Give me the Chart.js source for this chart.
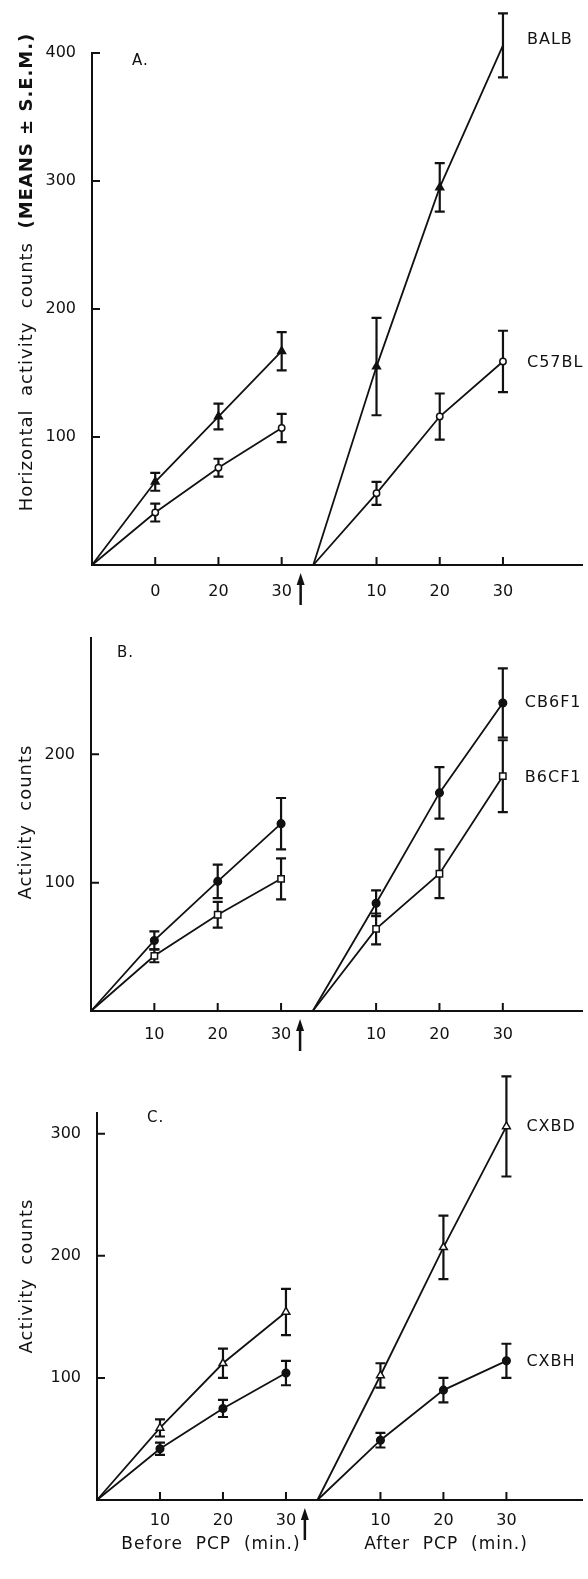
<!DOCTYPE html>
<html>
<head>
<meta charset="utf-8">
<script src="https://cdn.jsdelivr.net/npm/chart.js@4/dist/chart.umd.min.js"></script>
<style>
  body { margin: 0; background: #fff; width: 588px; height: 1579px; position: relative; overflow: hidden; }
  canvas { position: absolute; left: 0; }
</style>
</head>
<body>
<canvas id="chartA" width="588" height="620" style="top:0"></canvas>
<canvas id="chartB" width="588" height="440" style="top:620px"></canvas>
<canvas id="chartC" width="588" height="519" style="top:1060px"></canvas>
<script>
// minutes after start of each session; "after PCP" session is drawn from afterStart on
const beforeTimes = [10, 20, 30];
const afterTimes = [10, 20, 30];
const afterStart = 35;
const arrowAt = 33;

const tickLabelsA = ['0', '20', '30', '10', '20', '30'];
const tickLabelsBC = ['10', '20', '30', '10', '20', '30'];
const yTicksA = [100, 200, 300, 400];
const yTicksB = [100, 200];
const yTicksC = [100, 200, 300];

// A. BALB vs C57BL
const balbBefore = [65, 116, 167];
const balbBeforeErr = [7, 10, 15];
const balbAfter = [155, 295, 406];
const balbAfterErr = [38, 19, 25];
const c57Before = [41, 76, 107];
const c57BeforeErr = [7, 7, 11];
const c57After = [56, 116, 159];
const c57AfterErr = [9, 18, 24];

// B. CB6F1 vs B6CF1
const cb6f1Before = [55, 101, 146];
const cb6f1BeforeErr = [7, 13, 20];
const cb6f1After = [84, 170, 240];
const cb6f1AfterErr = [10, 20, 27];
const b6cf1Before = [43, 75, 103];
const b6cf1BeforeErr = [5, 10, 16];
const b6cf1After = [64, 107, 183];
const b6cf1AfterErr = [12, 19, 28];

// C. CXBD vs CXBH
const cxbdBefore = [59, 112, 154];
const cxbdBeforeErr = [7, 12, 19];
const cxbdAfter = [102, 207, 306];
const cxbdAfterErr = [10, 26, 41];
const cxbhBefore = [42, 75, 104];
const cxbhBeforeErr = [5, 7, 10];
const cxbhAfter = [49, 90, 114];
const cxbhAfterErr = [6, 10, 14];

const ink = '#111';
const FONT = '"DejaVu Sans", sans-serif';

function segment(times, vals, start) {
  return [{ x: start, y: 0 }].concat(times.map((t, i) => ({ x: start + t, y: vals[i] })));
}

function drawText(ctx, text, x, y, size, opts = {}) {
  ctx.save();
  ctx.font = (opts.bold ? 'bold ' : '') + size + 'px ' + FONT;
  ctx.letterSpacing = (opts.spacing || 0) + 'px';
  ctx.fillStyle = ink;
  ctx.textAlign = opts.align || 'left';
  ctx.textBaseline = opts.baseline || 'middle';
  ctx.translate(x, y);
  if (opts.rotate) ctx.rotate(-Math.PI / 2);
  ctx.fillText(text, 0, 0);
  ctx.restore();
}

function makePanel(cfg) {
  const canvas = document.getElementById(cfg.id);
  const datasets = [];
  cfg.series.forEach(s => {
    [[beforeTimes, s.before, s.beforeErr, 0], [afterTimes, s.after, s.afterErr, afterStart]].forEach(([times, vals, errs, start], k) => {
      datasets.push({
        label: s.name,
        data: segment(times, vals, start),
        errs: errs,
        borderColor: ink,
        borderWidth: 1.8,
        tension: 0,
        pointStyle: s.marker,
        pointRadius: [0].concat(vals.map(() => s.size)),
        pointBackgroundColor: s.filled ? ink : '#fff',
        pointBorderColor: ink,
        pointBorderWidth: 1.5,
        clip: false,
        strain: k === 1 ? s.name : null,
        labelDy: s.labelDy || 0
      });
    });
  });

  const extras = {
    id: 'extras' + cfg.id,
    beforeDatasetsDraw(chart) {
      const ctx = chart.ctx, y = chart.scales.y;
      ctx.save();
      ctx.strokeStyle = ink;
      ctx.lineWidth = 2.2;
      chart.data.datasets.forEach((ds, i) => {
        const meta = chart.getDatasetMeta(i);
        ds.errs.forEach((e, j) => {
          const pt = meta.data[j + 1];
          const v = ds.data[j + 1].y;
          const top = y.getPixelForValue(v + e), bot = y.getPixelForValue(v - e);
          ctx.beginPath();
          ctx.moveTo(pt.x, top); ctx.lineTo(pt.x, bot);
          ctx.moveTo(pt.x - 5, top); ctx.lineTo(pt.x + 5, top);
          ctx.moveTo(pt.x - 5, bot); ctx.lineTo(pt.x + 5, bot);
          ctx.stroke();
        });
      });
      ctx.restore();
    },
    afterDraw(chart) {
      const ctx = chart.ctx, a = chart.chartArea;
      const { x, y } = chart.scales;
      ctx.save();
      ctx.strokeStyle = ink;
      ctx.fillStyle = ink;
      ctx.lineWidth = 2;
      // inward tick marks
      ctx.beginPath();
      y.ticks.forEach(t => {
        const py = y.getPixelForValue(t.value);
        ctx.moveTo(a.left, py); ctx.lineTo(a.left + 8, py);
      });
      x.ticks.forEach(t => {
        const px = x.getPixelForValue(t.value);
        ctx.moveTo(px, a.bottom); ctx.lineTo(px, a.bottom - 8);
      });
      ctx.stroke();
      // PCP injection arrow
      const ax = x.getPixelForValue(arrowAt);
      const tip = a.bottom + 8;
      ctx.lineWidth = 2.5;
      ctx.beginPath();
      ctx.moveTo(ax, tip + 8); ctx.lineTo(ax, tip + 32);
      ctx.stroke();
      ctx.beginPath();
      ctx.moveTo(ax, tip); ctx.lineTo(ax - 4, tip + 12); ctx.lineTo(ax + 4, tip + 12);
      ctx.closePath();
      ctx.fill();
      ctx.restore();

      // strain labels next to the last point
      chart.data.datasets.forEach((ds, i) => {
        if (!ds.strain) return;
        const meta = chart.getDatasetMeta(i);
        const last = meta.data[meta.data.length - 1];
        drawText(ctx, ds.strain, last.x + cfg.labelDx, last.y + ds.labelDy, 16, { spacing: 1 });
      });

      drawText(ctx, cfg.letter, cfg.letterPos[0], cfg.letterPos[1], 15, { spacing: 1 });
      if (cfg.titleBold) {
        ctx.save();
        ctx.font = '18px ' + FONT;
        ctx.letterSpacing = '1px';
        const w1 = ctx.measureText(cfg.title).width;
        ctx.font = 'bold 18px ' + FONT;
        const w2 = ctx.measureText(cfg.titleBold).width;
        ctx.restore();
        const start = cfg.titlePos[1] + (w1 + w2) / 2;
        drawText(ctx, cfg.title, cfg.titlePos[0], start, 18, { rotate: true, spacing: 1, baseline: 'alphabetic' });
        drawText(ctx, cfg.titleBold, cfg.titlePos[0], start - w1, 18, { rotate: true, spacing: 1, baseline: 'alphabetic', bold: true });
      } else {
        drawText(ctx, cfg.title, cfg.titlePos[0], cfg.titlePos[1], 18, { rotate: true, spacing: 1, baseline: 'alphabetic', align: 'center' });
      }
      (cfg.xTitles || []).forEach(t => drawText(ctx, t.text, t.x, t.y, 17, { spacing: 1, align: 'center' }));
    }
  };

  const xTickValues = beforeTimes.concat(afterTimes.map(t => afterStart + t));

  return new Chart(canvas, {
    type: 'line',
    data: { datasets },
    options: {
      responsive: false,
      animation: false,
      events: [],
      layout: { padding: { left: 0, right: 3, top: cfg.padTop, bottom: 0 } },
      plugins: { legend: { display: false }, tooltip: { enabled: false } },
      scales: {
        x: {
          type: 'linear',
          min: 0,
          max: cfg.xMax,
          grid: { display: false },
          border: { display: true, color: ink, width: 2 },
          afterBuildTicks: s => { s.ticks = xTickValues.map(v => ({ value: v })); },
          afterFit: s => { s.height = cfg.xAxisH; },
          ticks: {
            color: ink,
            padding: cfg.xPad,
            maxRotation: 0,
            font: { family: FONT, size: 16 },
            callback: (v, i) => cfg.xLabels[i]
          }
        },
        y: {
          min: 0,
          max: cfg.yMax,
          grid: { display: false },
          border: { display: true, color: ink, width: 2 },
          afterBuildTicks: s => { s.ticks = cfg.yTicks.map(v => ({ value: v })); },
          afterFit: s => { s.width = cfg.left; },
          ticks: {
            color: ink,
            padding: 8,
            font: { family: FONT, size: 16 },
            callback: v => String(v)
          }
        }
      }
    },
    plugins: [extras]
  });
}

makePanel({
  id: 'chartA', left: 92, padTop: 53, xAxisH: 55, xMax: 77.5, yMax: 400, yTicks: yTicksA,
  xLabels: tickLabelsA, xPad: 9, labelDx: 24,
  letter: 'A.', letterPos: [132, 61],
  title: 'Horizontal  activity  counts  ', titleBold: '(MEANS ± S.E.M.)', titlePos: [32, 272],
  series: [
    { name: 'BALB', before: balbBefore, beforeErr: balbBeforeErr, after: balbAfter, afterErr: balbAfterErr, marker: 'triangle', size: 4.5, filled: true, labelDy: -5 },
    { name: 'C57BL', before: c57Before, beforeErr: c57BeforeErr, after: c57After, afterErr: c57AfterErr, marker: 'circle', size: 3.2, filled: false, labelDy: 1 }
  ]
});

makePanel({
  id: 'chartB', left: 91, padTop: 15, xAxisH: 49, xMax: 77.5, yMax: 291, yTicks: yTicksB,
  xLabels: tickLabelsBC, xPad: 6, labelDx: 22,
  letter: 'B.', letterPos: [117, 33],
  title: 'Activity  counts', titlePos: [31, 202],
  series: [
    { name: 'CB6F1', before: cb6f1Before, beforeErr: cb6f1BeforeErr, after: cb6f1After, afterErr: cb6f1AfterErr, marker: 'circle', size: 3.8, filled: true, labelDy: 0 },
    { name: 'B6CF1', before: b6cf1Before, beforeErr: b6cf1BeforeErr, after: b6cf1After, afterErr: b6cf1AfterErr, marker: 'rect', size: 4.5, filled: false, labelDy: 2 }
  ]
});

makePanel({
  id: 'chartC', left: 97, padTop: 53, xAxisH: 79, xMax: 77, yMax: 317, yTicks: yTicksC,
  xLabels: tickLabelsBC, xPad: 3, labelDx: 20,
  letter: 'C.', letterPos: [147, 58],
  title: 'Activity  counts', titlePos: [32, 216],
  xTitles: [{ text: 'Before  PCP  (min.)', x: 211, y: 485 }, { text: 'After  PCP  (min.)', x: 446, y: 485 }],
  series: [
    { name: 'CXBD', before: cxbdBefore, beforeErr: cxbdBeforeErr, after: cxbdAfter, afterErr: cxbdAfterErr, marker: 'triangle', size: 4.5, filled: false, labelDy: 0 },
    { name: 'CXBH', before: cxbhBefore, beforeErr: cxbhBeforeErr, after: cxbhAfter, afterErr: cxbhAfterErr, marker: 'circle', size: 3.8, filled: true, labelDy: 1 }
  ]
});
</script>
</body>
</html>
